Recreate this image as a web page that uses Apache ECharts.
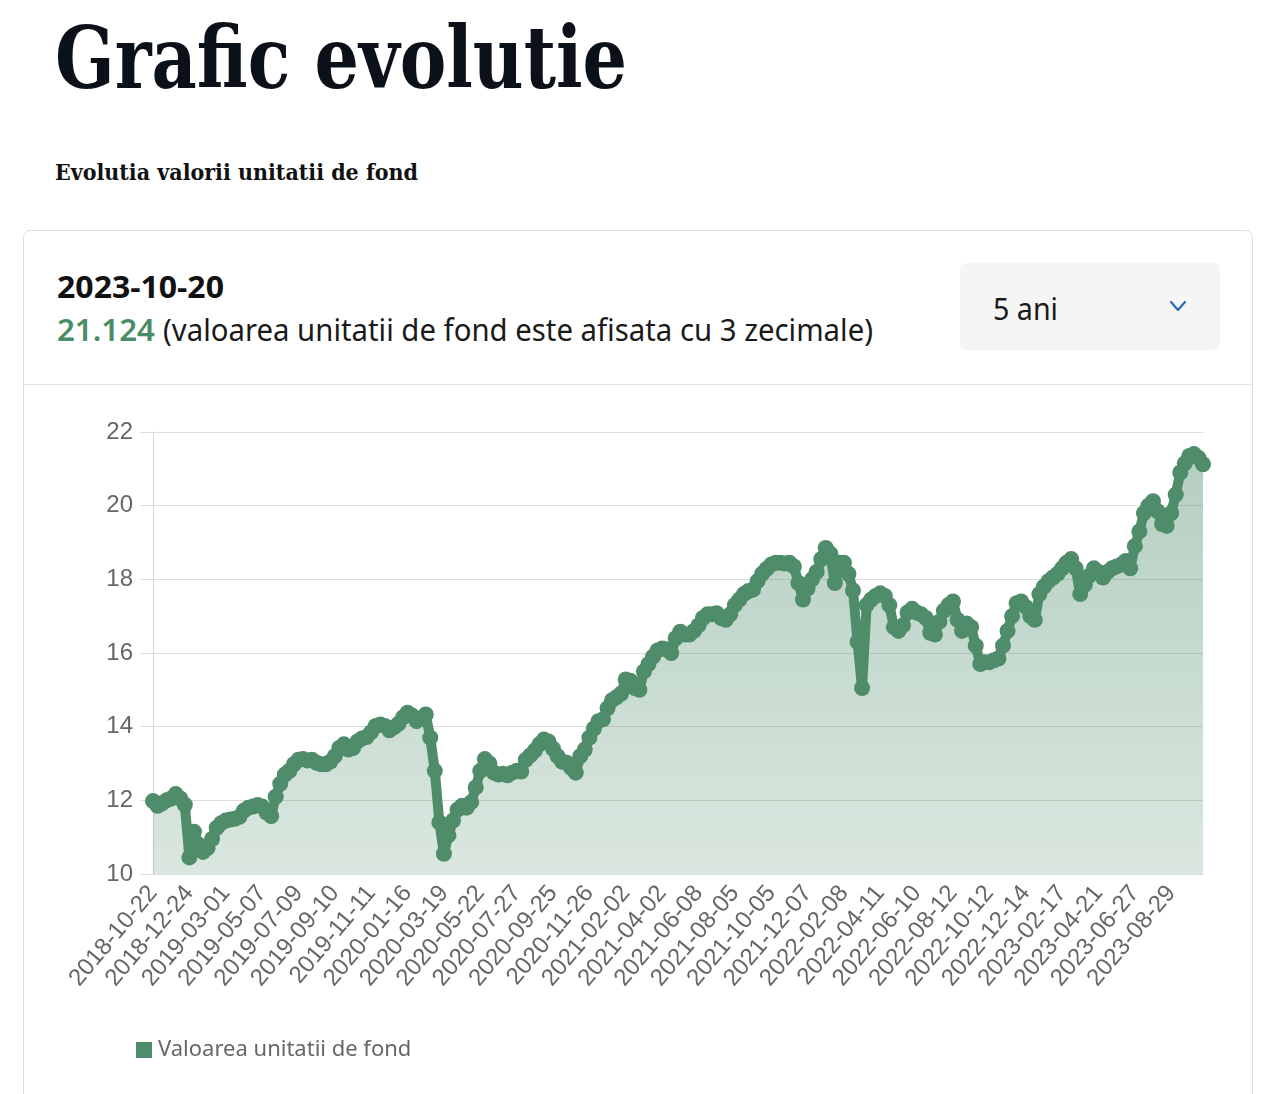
<!DOCTYPE html>
<html>
<head>
<meta charset="utf-8">
<script src="https://cdn.jsdelivr.net/npm/echarts@6/dist/echarts.min.js"></script>
<style>
  html, body { margin: 0; padding: 0; background: #fff; }
  body { width: 1262px; height: 1094px; position: relative; overflow: hidden; }
  #page { position: absolute; left: 0; top: 0; }
  #chart { position: absolute; left: 24px; top: 385px; width: 1228px; height: 709px; }
</style>
</head>
<body>
<svg id="page" width="1262" height="1094" xmlns="http://www.w3.org/2000/svg">
  <rect x="23.5" y="230.5" width="1229" height="900" rx="7" ry="7" fill="#fff" stroke="#dcdcdc" stroke-width="1"/>
  <line x1="24" y1="384.5" x2="1252" y2="384.5" stroke="#e3e3e3" stroke-width="1"/>
  <text x="55" y="88" font-family="'DejaVu Serif'" font-weight="bold" font-size="86" fill="#0a1118" textLength="572" lengthAdjust="spacingAndGlyphs">Grafic evolutie</text>
  <text x="55" y="180" font-family="'DejaVu Serif'" font-weight="bold" font-size="23" fill="#111" textLength="363" lengthAdjust="spacingAndGlyphs">Evolutia valorii unitatii de fond</text>
  <text x="57" y="298" font-family="'Noto Sans'" font-weight="bold" font-size="30" fill="#111" textLength="167" lengthAdjust="spacingAndGlyphs">2023-10-20</text>
  <text x="57" y="341" font-family="'Noto Sans'" font-weight="600" font-size="30" fill="#4a8c66" textLength="98" lengthAdjust="spacingAndGlyphs">21.124</text>
  <text x="163" y="341" font-family="'Noto Sans'" font-size="30" fill="#1a1a1a" textLength="710" lengthAdjust="spacingAndGlyphs">(valoarea unitatii de fond este afisata cu 3 zecimale)</text>
  <rect x="960" y="263" width="260" height="87" rx="6" ry="6" fill="#f5f5f5"/>
  <text x="993" y="320" font-family="'Noto Sans'" font-size="30" fill="#1a1a1a" textLength="65" lengthAdjust="spacingAndGlyphs">5 ani</text>
  <polyline points="1171,302 1178,310 1185,302" fill="none" stroke="#2b6cb0" stroke-width="2.2" stroke-linecap="round" stroke-linejoin="round"/>
</svg>
<div id="chart"></div>
<script>
// Tick labels shown on the x axis (every 8th sampled point)
const tickLabels = [
  '2018-10-22','2018-12-24','2019-03-01','2019-05-07','2019-07-09','2019-09-10',
  '2019-11-11','2020-01-16','2020-03-19','2020-05-22','2020-07-27','2020-09-25',
  '2020-11-26','2021-02-02','2021-04-02','2021-06-08','2021-08-05','2021-10-05',
  '2021-12-07','2022-02-08','2022-04-11','2022-06-10','2022-08-12','2022-10-12',
  '2022-12-14','2023-02-17','2023-04-21','2023-06-27','2023-08-29'
];
const lastDate = '2023-10-20';
const pointsPerTick = 8;

const values = [
  11.98, 11.85, 11.92, 12.0, 12.05, 12.17, 12.05, 11.88, 10.45, 11.15,
  10.8, 10.6, 10.7, 10.95, 11.25, 11.38, 11.45, 11.48, 11.5, 11.55,
  11.72, 11.8, 11.83, 11.87, 11.83, 11.67, 11.57, 12.1, 12.45, 12.7,
  12.8, 12.98, 13.1, 13.12, 13.08, 13.1, 13.02, 12.98, 12.98, 13.05,
  13.2, 13.42, 13.52, 13.38, 13.42, 13.6, 13.68, 13.72, 13.85, 14.02,
  14.06, 14.02, 13.9, 13.98, 14.08, 14.25, 14.38, 14.3, 14.15, 14.22,
  14.33, 13.7, 12.8, 11.4, 10.55, 11.05, 11.45, 11.75, 11.85, 11.8,
  11.95, 12.35, 12.8, 13.12, 13.0, 12.75, 12.7, 12.72, 12.68, 12.75,
  12.8, 12.78, 13.1, 13.22, 13.35, 13.52, 13.65, 13.6, 13.4, 13.2,
  13.05, 13.02, 12.88, 12.75, 13.2, 13.38, 13.7, 13.95, 14.15, 14.2,
  14.5, 14.72, 14.8, 14.9, 15.28, 15.25, 15.05, 15.0, 15.5, 15.7,
  15.9, 16.07, 16.12, 16.1, 16.0, 16.4, 16.58, 16.5, 16.5, 16.6,
  16.75, 16.95, 17.05, 17.05, 17.08, 16.95, 16.9, 17.05, 17.3, 17.45,
  17.6, 17.68, 17.72, 17.95, 18.15, 18.28, 18.4, 18.45, 18.45, 18.43,
  18.45, 18.35, 17.9, 17.45, 17.75, 18.0, 18.2, 18.55, 18.85, 18.7,
  17.9, 18.45, 18.45, 18.15, 17.7, 16.3, 15.05, 17.3, 17.45, 17.55,
  17.62, 17.55, 17.3, 16.7, 16.6, 16.75, 17.1, 17.2, 17.1, 17.05,
  16.95, 16.55, 16.5, 16.85, 17.15, 17.3, 17.4, 16.9, 16.6, 16.8,
  16.7, 16.2, 15.7, 15.75, 15.75, 15.8, 15.85, 16.2, 16.6, 17.0,
  17.35, 17.4, 17.25, 17.0, 16.9, 17.6, 17.8, 17.95, 18.05, 18.15,
  18.3, 18.45, 18.55, 18.3, 17.6, 17.85, 18.1, 18.3, 18.2, 18.05,
  18.2, 18.3, 18.35, 18.4, 18.5, 18.3, 18.9, 19.3, 19.8, 20.0,
  20.12, 19.85, 19.5, 19.45, 19.8, 20.3, 20.9, 21.15, 21.35, 21.4,
  21.3, 21.124
];

const seriesName = 'Valoarea unitatii de fond';

const categories = values.map(function (v, i) {
  if (i === values.length - 1) return lastDate;
  if (i % pointsPerTick === 0 && i / pointsPerTick < tickLabels.length) return tickLabels[i / pointsPerTick];
  return '';
});

const chart = echarts.init(document.getElementById('chart'), null, { renderer: 'canvas' });
chart.setOption({
  animation: false,
  backgroundColor: 'transparent',
  grid: { left: 129, right: 49, top: 47, bottom: 220, containLabel: false },
  legend: {
    left: 112, top: 654, padding: 0,
    icon: 'rect', itemWidth: 16, itemHeight: 16, itemGap: 10,
    textStyle: { color: '#666', fontSize: 22, fontFamily: 'Noto Sans', padding: [0, 0, 0, 1] },
    data: [seriesName]
  },
  xAxis: {
    type: 'category',
    data: categories,
    boundaryGap: false,
    axisLine: { show: true, lineStyle: { color: '#dcdcdc', width: 1 } },
    axisTick: { show: false },
    splitLine: { show: false },
    axisLabel: {
      rotate: 50,
      margin: 15,
      color: '#666',
      fontSize: 24,
      fontFamily: 'Liberation Sans, Arial, sans-serif',
      interval: function (index) {
        return index % pointsPerTick === 0 && index / pointsPerTick < tickLabels.length;
      }
    }
  },
  yAxis: {
    type: 'value',
    min: 10, max: 22, interval: 2,
    axisLine: { show: true, lineStyle: { color: '#d6d6d6', width: 1 } },
    axisTick: { show: true, length: 13, lineStyle: { color: '#dcdcdc' } },
    splitLine: { show: true, lineStyle: { color: '#dcdcdc', width: 1 } },
    axisLabel: {
      color: '#666', fontSize: 24, margin: 20,
      fontFamily: 'Liberation Sans, Arial, sans-serif'
    }
  },
  series: [{
    name: seriesName,
    type: 'line',
    data: values,
    symbol: 'circle',
    symbolSize: 16,
    showSymbol: true,
    showAllSymbol: true,
    lineStyle: { color: '#4e8c6a', width: 10, cap: 'round', join: 'round' },
    itemStyle: { color: '#4e8c6a', borderWidth: 0 },
    areaStyle: {
      color: new echarts.graphic.LinearGradient(0, 0, 0, 1, [
        { offset: 0, color: 'rgba(78,140,106,0.6)' },
        { offset: 1, color: 'rgba(78,140,106,0.3)' }
      ])
    },
    emphasis: { disabled: true }
  }]
});
</script>
</body>
</html>
